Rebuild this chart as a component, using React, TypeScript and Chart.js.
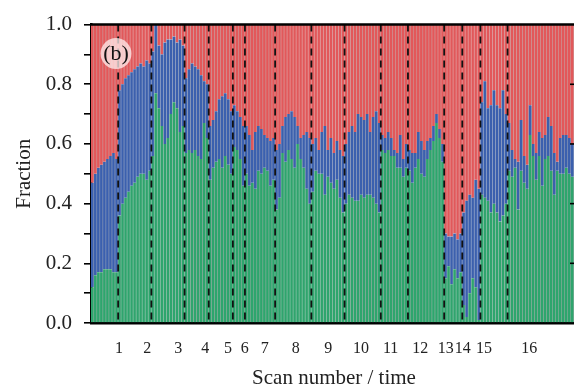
import React, { useEffect, useRef } from "react";
import { Chart, registerables } from "chart.js";

Chart.register(...registerables);

// Scan labels (one per scan segment)
const scanLabels = ["1", "2", "3", "4", "5", "6", "7", "8", "9", "10", "11", "12", "13", "14", "15", "16"];

// Green fraction per bar, grouped by scan
const greenByScan: number[][] = [
  [0.12, 0.16, 0.17, 0.17, 0.18, 0.18, 0.18, 0.17, 0.17],
  [0.36, 0.40, 0.42, 0.44, 0.46, 0.47, 0.49, 0.50, 0.50, 0.48, 0.51],
  [0.56, 0.77, 0.72, 0.66, 0.60, 0.62, 0.70, 0.74, 0.72, 0.64, 0.66],
  [0.57, 0.58, 0.57, 0.58, 0.56, 0.55, 0.67, 0.62],
  [0.48, 0.52, 0.54, 0.55, 0.52, 0.56, 0.53, 0.50],
  [0.59, 0.58, 0.55, 0.46],
  [0.50, 0.46, 0.47, 0.45, 0.51, 0.50, 0.52, 0.51, 0.46, 0.48],
  [0.38, 0.42, 0.57, 0.54, 0.58, 0.55, 0.52, 0.60, 0.55, 0.52, 0.45, 0.40],
  [0.44, 0.51, 0.50, 0.50, 0.43, 0.49, 0.47, 0.45, 0.48, 0.42, 0.37],
  [0.40, 0.43, 0.42, 0.41, 0.41, 0.43, 0.42, 0.43, 0.43, 0.42, 0.40, 0.37],
  [0.58, 0.57, 0.58, 0.56, 0.56, 0.52, 0.52, 0.49, 0.52],
  [0.51, 0.47, 0.52, 0.55, 0.50, 0.49, 0.55, 0.58, 0.61, 0.67, 0.62, 0.54],
  [0.15, 0.19, 0.13, 0.18, 0.15, 0.17],
  [0.06, 0.02, 0.10, 0.15, 0.12, 0.01],
  [0.43, 0.42, 0.41, 0.37, 0.40, 0.37, 0.34, 0.36, 0.40],
  [0.51, 0.49, 0.52, 0.38, 0.51, 0.47, 0.45, 0.63, 0.56, 0.48, 0.56, 0.46, 0.55, 0.56, 0.51, 0.43, 0.51, 0.50, 0.50, 0.52, 0.50, 0.49, 0.51],
];

// Blue fraction per bar, grouped by scan
const blueByScan: number[][] = [
  [0.35, 0.34, 0.35, 0.36, 0.36, 0.37, 0.38, 0.40, 0.38],
  [0.42, 0.40, 0.40, 0.39, 0.38, 0.38, 0.37, 0.37, 0.36, 0.40, 0.36],
  [0.35, 0.23, 0.21, 0.24, 0.34, 0.33, 0.25, 0.22, 0.22, 0.31, 0.27],
  [0.25, 0.27, 0.30, 0.28, 0.29, 0.28, 0.14, 0.18],
  [0.18, 0.16, 0.17, 0.20, 0.24, 0.21, 0.22, 0.21],
  [0.14, 0.13, 0.14, 0.20],
  [0.16, 0.17, 0.11, 0.19, 0.15, 0.15, 0.11, 0.11, 0.15, 0.14],
  [0.20, 0.18, 0.09, 0.15, 0.12, 0.16, 0.17, 0.06, 0.07, 0.11, 0.19, 0.22],
  [0.16, 0.11, 0.08, 0.14, 0.23, 0.09, 0.15, 0.12, 0.13, 0.16, 0.19],
  [0.20, 0.21, 0.24, 0.23, 0.29, 0.26, 0.26, 0.27, 0.21, 0.27, 0.31, 0.30],
  [0.05, 0.05, 0.06, 0.06, 0.02, 0.05, 0.11, 0.06, 0.08],
  [0.07, 0.10, 0.05, 0.09, 0.11, 0.09, 0.06, 0.04, 0.05, 0.03, 0.03, 0.06],
  [0.15, 0.10, 0.16, 0.12, 0.13, 0.13],
  [0.31, 0.39, 0.33, 0.27, 0.36, 0.44],
  [0.31, 0.39, 0.31, 0.36, 0.38, 0.36, 0.38, 0.42, 0.30],
  [0.16, 0.09, 0.03, 0.16, 0.17, 0.09, 0.08, 0.10, 0.04, 0.09, 0.08, 0.16, 0.08, 0.13, 0.15, 0.14, 0.03, 0.12, 0.13, 0.11, 0.12, 0.11, 0.11],
];

const yTickValues = [0, 0.2, 0.4, 0.6, 0.8, 1.0];
const panelLabel = "(b)";
const xTitle = "Scan number / time";
const yTitle = "Fraction";

const green = greenByScan.flat();
const blue = blueByScan.flat();
const red = green.map((g, i) => Math.max(0, +(1 - g - blue[i]).toFixed(3)));
const scanSizes = greenByScan.map((s) => s.length);
const nBars = green.length;
const barLabels = green.map((_, i) => String(i + 1));
const scanCenters: number[] = [];
{
  let start = 0;
  for (const s of scanSizes) {
    scanCenters.push(start + (s - 1) / 2);
    start += s;
  }
}

const SERIF = "'Liberation Serif', 'Times New Roman', 'DejaVu Serif', serif";

const decorPlugin = {
  id: "decor",
  afterDatasetsDraw(chart: any) {
    const { ctx, chartArea: a, scales } = chart;
    const xs = scales.x;
    const ys = scales.y;
    ctx.save();
    // dashed scan separators
    ctx.setLineDash([7, 5]);
    ctx.lineWidth = 1.8;
    ctx.strokeStyle = "#111";
    let idx = 0;
    for (let k = 0; k < scanSizes.length - 1; k++) {
      idx += scanSizes[k];
      const x = (xs.getPixelForValue(idx - 1) + xs.getPixelForValue(idx)) / 2;
      ctx.beginPath();
      ctx.moveTo(x, a.top);
      ctx.lineTo(x, a.bottom);
      ctx.stroke();
    }
    ctx.setLineDash([]);
    // top & right frame
    ctx.lineWidth = 2.5;
    ctx.strokeStyle = "#000";
    ctx.beginPath();
    ctx.moveTo(a.left, a.top);
    ctx.lineTo(a.right, a.top);
    ctx.lineTo(a.right, a.bottom);
    ctx.stroke();
    // inward ticks on right side
    ctx.lineWidth = 1.6;
    for (const v of yTickValues) {
      if (v === 0 || v === 1) continue;
      const y = ys.getPixelForValue(v);
      ctx.beginPath();
      ctx.moveTo(a.right - 7, y);
      ctx.lineTo(a.right, y);
      ctx.stroke();
    }
    // panel label
    const cx = a.left + 25;
    const cy = a.top + 29;
    ctx.beginPath();
    ctx.arc(cx, cy, 15.5, 0, Math.PI * 2);
    ctx.fillStyle = "rgba(255,238,238,0.75)";
    ctx.fill();
    ctx.fillStyle = "#111";
    ctx.font = `22px ${SERIF}`;
    ctx.textAlign = "center";
    ctx.textBaseline = "middle";
    ctx.fillText(panelLabel, cx, cy + 1);
    ctx.restore();
  },
};

const stripe = { left: 0, right: 0.8, top: 0, bottom: 0 };

export default function App() {
  const ref = useRef<HTMLCanvasElement | null>(null);
  useEffect(() => {
    if (!ref.current) return;
    const chart = new Chart(ref.current, {
      type: "bar",
      data: {
        labels: barLabels,
        datasets: [
          { label: "green", data: green, backgroundColor: "#2ea56d", borderColor: "rgba(90,110,100,0.55)", borderWidth: stripe, borderSkipped: false, xAxisID: "x", yAxisID: "y", barPercentage: 1, categoryPercentage: 1 },
          { label: "blue", data: blue, backgroundColor: "#3b60ae", borderColor: "rgba(90,100,130,0.55)", borderWidth: stripe, borderSkipped: false, xAxisID: "x", yAxisID: "y", barPercentage: 1, categoryPercentage: 1 },
          { label: "red", data: red, backgroundColor: "#e2585a", borderColor: "rgba(150,100,100,0.55)", borderWidth: stripe, borderSkipped: false, xAxisID: "x", yAxisID: "y", barPercentage: 1, categoryPercentage: 1 },
        ],
      },
      options: {
        responsive: false,
        animation: false,
        devicePixelRatio: 1,
        layout: { padding: { left: 0, top: 22, right: 13, bottom: 0 } },
        plugins: { legend: { display: false }, tooltip: { enabled: false } },
        scales: {
          x: { type: "category", stacked: true, display: false },
          xs: {
            type: "linear",
            position: "bottom",
            min: -0.5,
            max: nBars - 0.5,
            z: 1,
            grid: { display: false },
            border: { display: true, color: "#000", width: 2.5 },
            afterBuildTicks: (axis: any) => {
              axis.ticks = scanCenters.map((c) => ({ value: c }));
            },
            afterFit: (axis: any) => {
              axis.height = 68;
            },
            ticks: {
              autoSkip: false,
              maxRotation: 0,
              padding: 8,
              color: "#222",
              font: { family: SERIF, size: 16 },
              callback: (_v: any, i: number) => scanLabels[i],
            },
            title: {
              display: true,
              text: xTitle,
              color: "#222",
              font: { family: SERIF, size: 21 },
              padding: { top: 0, bottom: 0 },
            },
          },
          y: {
            stacked: true,
            min: 0,
            max: 1,
            z: 1,
            afterFit: (axis: any) => {
              axis.width = 91;
            },
            grid: { drawOnChartArea: false, drawTicks: true, tickLength: 7, color: "#000", lineWidth: 1.6 },
            border: { display: true, color: "#000", width: 2.5 },
            ticks: {
              stepSize: 0.1,
              padding: 12,
              color: "#222",
              font: { family: SERIF, size: 21 },
              callback: (v: any) => (Math.round(Number(v) * 10) % 2 === 0 ? Number(v).toFixed(1) : ""),
            },
            title: {
              display: true,
              text: yTitle,
              color: "#222",
              font: { family: SERIF, size: 21 },
              padding: { top: 12, bottom: 0 },
            },
          },
        },
      },
      plugins: [decorPlugin],
    } as any);
    return () => chart.destroy();
  }, []);
  return (
    <div style={{ position: "fixed", left: 0, top: 0, width: 574, height: 391, overflow: "hidden", background: "#fff" }}>
      <canvas ref={ref} width={590} height={391} style={{ display: "block" }} />
    </div>
  );
}
